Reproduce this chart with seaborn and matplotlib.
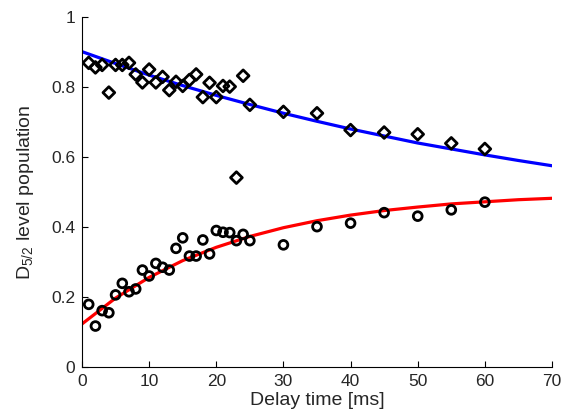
import matplotlib
matplotlib.use("Agg")
import matplotlib.pyplot as plt
import seaborn as sns
import pandas as pd

# ---- data ----
delay_ms = [1, 2, 3, 4, 5, 6, 7, 8, 9, 10, 11, 12, 13, 14, 15, 16, 17, 18, 19, 20,
            21, 22, 23, 24, 25, 30, 35, 40, 45, 50, 55, 60]
pop_diamond = [0.869, 0.856, 0.863, 0.784, 0.863, 0.863, 0.869, 0.836, 0.813, 0.850,
               0.813, 0.829, 0.791, 0.815, 0.803, 0.820, 0.836, 0.771, 0.812, 0.771,
               0.803, 0.801, 0.541, 0.832, 0.749, 0.729, 0.725, 0.677, 0.670, 0.665,
               0.639, 0.623]
pop_circle = [0.179, 0.117, 0.161, 0.155, 0.206, 0.239, 0.215, 0.223, 0.277, 0.260,
              0.296, 0.285, 0.277, 0.339, 0.369, 0.317, 0.317, 0.363, 0.323, 0.390,
              0.385, 0.384, 0.361, 0.379, 0.361, 0.349, 0.401, 0.411, 0.441, 0.431,
              0.449, 0.471]

# fitted curves, values every 5 ms
curve_t = [0, 5, 10, 15, 20, 25, 30, 35, 40, 45, 50, 55, 60, 65, 70]
curve_blue = [0.901, 0.867, 0.834, 0.804, 0.776, 0.750, 0.725, 0.702, 0.680, 0.660,
              0.640, 0.623, 0.606, 0.590, 0.575]
curve_red = [0.123, 0.197, 0.256, 0.304, 0.342, 0.373, 0.398, 0.418, 0.434, 0.447,
             0.457, 0.466, 0.472, 0.478, 0.482]

x_ticks = [0, 10, 20, 30, 40, 50, 60, 70]
y_ticks = [0, 0.2, 0.4, 0.6, 0.8, 1]
y_ticklabels = ["0", "0.2", "0.4", "0.6", "0.8", "1"]

sns.set_style("ticks")
plt.rcParams["font.family"] = ["Liberation Sans", "DejaVu Sans"]
plt.rcParams["mathtext.fontset"] = "custom"
plt.rcParams["mathtext.rm"] = "Liberation Sans"

df_pts = pd.DataFrame({"t": delay_ms, "d": pop_diamond, "c": pop_circle})
df_fit = pd.DataFrame({"t": curve_t, "b": curve_blue, "r": curve_red})

fig = plt.figure(figsize=(5.71, 4.19), dpi=100)
ax = fig.add_axes([82 / 571, 52 / 419, 470 / 571, 350 / 419])

sns.lineplot(data=df_fit, x="t", y="b", color=(0, 0, 1), linewidth=2.3, ax=ax, zorder=2)
sns.lineplot(data=df_fit, x="t", y="r", color=(1, 0, 0), linewidth=2.3, ax=ax, zorder=2)
sns.scatterplot(data=df_pts, x="t", y="d", marker="D", s=36, facecolor="none",
                edgecolor="black", linewidth=2.0, ax=ax, zorder=3)
sns.scatterplot(data=df_pts, x="t", y="c", marker="o", s=40, facecolor="none",
                edgecolor="black", linewidth=2.0, ax=ax, zorder=3)

ax.set_xlim(0, 70)
ax.set_ylim(0, 1)
ax.set_xticks(x_ticks)
ax.set_yticks(y_ticks)
ax.set_yticklabels(y_ticklabels)
ax.tick_params(direction="in", length=4, width=0.8, labelsize=12.5, pad=5, color="black")
for s in ["top", "right"]:
    ax.spines[s].set_visible(False)
for s in ["left", "bottom"]:
    ax.spines[s].set_linewidth(0.8)
    ax.spines[s].set_color("black")

ax.set_xlabel("Delay time [ms]", fontsize=14, labelpad=2)
ax.set_ylabel(r"$\mathregular{D_{5/2}}$ level population", fontsize=14, labelpad=11)

fig.savefig("out.png", dpi=100)
